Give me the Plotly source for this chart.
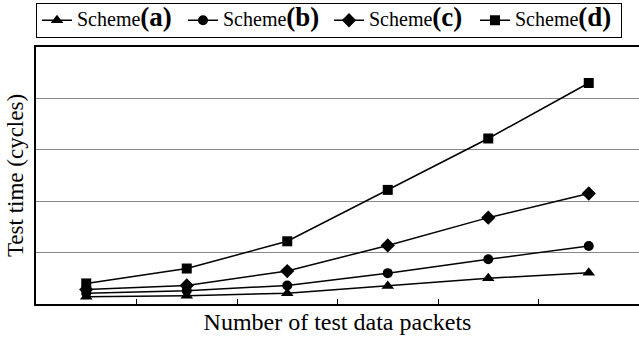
import plotly.graph_objects as go

packets = [1, 2, 3, 4, 5, 6]
scheme_a = [0.14, 0.16, 0.21, 0.35, 0.50, 0.61]
scheme_b = [0.21, 0.26, 0.36, 0.60, 0.87, 1.13]
scheme_c = [0.28, 0.36, 0.64, 1.14, 1.68, 2.15]
scheme_d = [0.40, 0.69, 1.22, 2.22, 3.22, 4.30]
labels = ["(a)", "(b)", "(c)", "(d)"]
symbols = ["triangle-up", "circle", "diamond", "square"]
sizes = [11, 10, 11, 10]

SERIF = "Liberation Serif, Times New Roman, serif"

fig = go.Figure()
for vals, lab, sym, sz in zip([scheme_a, scheme_b, scheme_c, scheme_d], labels, symbols, sizes):
    fig.add_trace(go.Scatter(
        x=packets, y=vals, mode="lines+markers",
        name="<span style='font-size:20px'>Scheme</span><span style='font-size:27px'><b>" + lab + "</b></span>",
        line=dict(color="black", width=1.5),
        marker=dict(symbol=sym, size=sz, color="black"),
    ))

fig.update_layout(
    width=639, height=338,
    margin=dict(l=36, r=0, t=47, b=34, autoexpand=False),
    paper_bgcolor="white", plot_bgcolor="white",
    font=dict(family=SERIF, color="black"),
    showlegend=True,
    legend=dict(
        orientation="h", x=0.0, xanchor="left",
        yref="container", y=1 - 3 / 338, yanchor="top",
        bordercolor="black", borderwidth=1,
        font=dict(size=15, family=SERIF),
        entrywidth=101,
        tracegroupgap=0, itemwidth=30,
    ),
    xaxis=dict(
        range=[0.5, 6.5], tickvals=[1.5, 2.5, 3.5, 4.5, 5.5],
        showticklabels=False, ticks="inside", ticklen=5, tickcolor="black", tickwidth=1,
        showgrid=False, zeroline=False,
        showline=True, linecolor="black", linewidth=2, mirror=True,
        title=dict(text="Number of test data packets", font=dict(size=24, family=SERIF), standoff=8),
    ),
    yaxis=dict(
        range=[0, 5], tickvals=[1, 2, 3, 4], showticklabels=False, ticks="",
        showgrid=True, gridcolor="#888888", gridwidth=1, zeroline=False,
        showline=True, linecolor="black", linewidth=2, mirror=False,
        title=dict(text="Test time (cycles)", font=dict(size=23, family=SERIF), standoff=4),
    ),
)

fig.write_html("out.html", config={"displayModeBar": False},
               post_script="document.body.style.margin='0';")
